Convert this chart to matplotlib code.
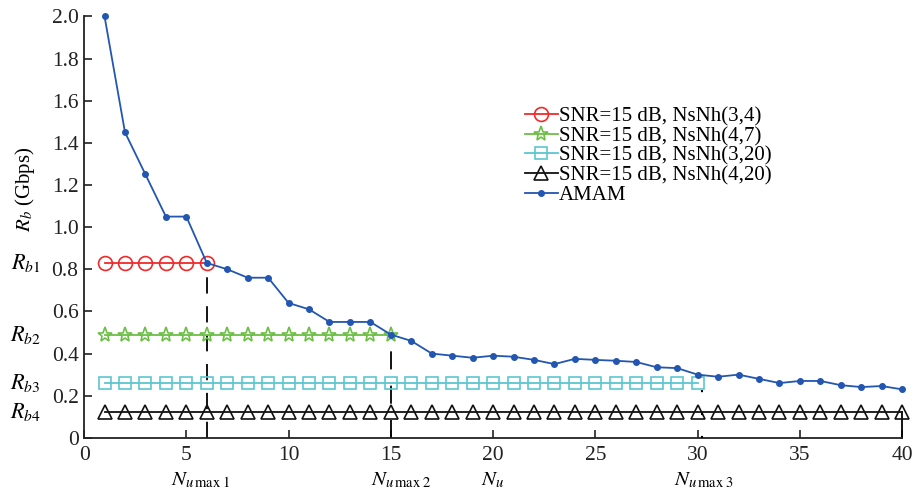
import matplotlib
matplotlib.use('Agg')
import matplotlib.pyplot as plt

plt.rcParams['font.family'] = 'Liberation Serif'
plt.rcParams['mathtext.fontset'] = 'stix'

# AMAM rate per number of users
n_users = list(range(1, 41))
amam = [2.0, 1.45, 1.25, 1.05, 1.05, 0.83, 0.80, 0.76, 0.76, 0.64,
        0.61, 0.55, 0.55, 0.55, 0.49, 0.46, 0.40, 0.39, 0.38, 0.39,
        0.385, 0.37, 0.35, 0.375, 0.37, 0.366, 0.36, 0.335, 0.331, 0.30,
        0.29, 0.30, 0.28, 0.26, 0.27, 0.27, 0.25, 0.241, 0.246, 0.23]

# fixed rates for each NsNh setting and how far they reach
rb_values = [0.83, 0.49, 0.26, 0.125]
nu_max = [6, 15, 30, 40]
series_labels = ['SNR=15 dB, NsNh(3,4)', 'SNR=15 dB, NsNh(4,7)',
                 'SNR=15 dB, NsNh(3,20)', 'SNR=15 dB, NsNh(4,20)']
rb_names = ['$R_{b1}$', '$R_{b2}$', '$R_{b3}$', '$R_{b4}$']
nu_names = ['$N_{u\\,\\mathrm{max}\\;1}$', '$N_{u\\,\\mathrm{max}\\;2}$',
            '$N_u$', '$N_{u\\,\\mathrm{max}\\;3}$']
nu_name_pos = [5.7, 15.5, 20.0, 30.3]

colors = ['#f02a2a', '#6cbf45', '#5cc6d0', '#111111']
markers = ['o', '*', 's', '^']
msizes = [10, 11, 8, 10]

fig = plt.figure(figsize=(9.14, 4.97), dpi=100)
ax = fig.add_axes([0.092, 0.119, 0.895, 0.848])

for i in range(4):
    xs = list(range(1, nu_max[i] + 1))
    ax.plot(xs, [rb_values[i]] * len(xs), color=colors[i], marker=markers[i],
            markersize=msizes[i], markerfacecolor='none', markeredgewidth=1.2,
            lw=1.3, label=series_labels[i], clip_on=False, zorder=3)

ax.plot(n_users, amam, color='#2356b0', marker='o', markersize=4,
        lw=1.3, label='AMAM', clip_on=False, zorder=4)

#vertical markers down to the axis
ax.plot([6, 6], [0, rb_values[0]], color='black', lw=1.3, dashes=(9, 7), zorder=2)
ax.plot([15, 15], [0, rb_values[1]], color='black', lw=1.3, dashes=(10, 9), zorder=2)
ax.plot([30.2, 30.2], [0, rb_values[2]], color='black', lw=1.5, dashes=(1, 10), zorder=5)
ax.plot([40, 40], [0, rb_values[3]], color='black', lw=1.3, zorder=2, clip_on=False)

ax.set_xlim(0, 40)
ax.set_ylim(0, 2.0)
ax.set_xticks(range(0, 41, 5))
ax.set_yticks([0, 0.2, 0.4, 0.6, 0.8, 1.0, 1.2, 1.4, 1.6, 1.8, 2.0])
ax.set_yticklabels(['0', '0.2', '0.4', '0.6', '0.8', '1.0', '1.2', '1.4', '1.6', '1.8', '2.0'])
ax.tick_params(direction='in', length=6, width=1.2, labelsize=15.5, colors='#222222', pad=4)
ax.tick_params(axis='x', pad=6)
for side in ['top', 'right']:
    ax.spines[side].set_visible(False)
for side in ['left', 'bottom']:
    ax.spines[side].set_linewidth(1.3)
    ax.spines[side].set_color('#222222')

for name, val in zip(rb_names, rb_values):
    ax.text(-0.053, val, name, transform=ax.get_yaxis_transform(), fontsize=16,
            ha='right', va='center')
ax.text(-0.072, 1.18, '$R_b$ (Gbps)', transform=ax.get_yaxis_transform(), fontsize=15,
        rotation=90, ha='center', va='center')

for name, xpos in zip(nu_names, nu_name_pos):
    ax.text(xpos, -0.1, name, transform=ax.get_xaxis_transform(), fontsize=15,
            ha='center', va='center')

ax.legend(loc='upper left', bbox_to_anchor=(0.526, 0.81), frameon=False, fontsize=15,
          handlelength=1.6, handletextpad=0.05, labelspacing=0.0, borderpad=0)

fig.savefig('out.png', dpi=100)
